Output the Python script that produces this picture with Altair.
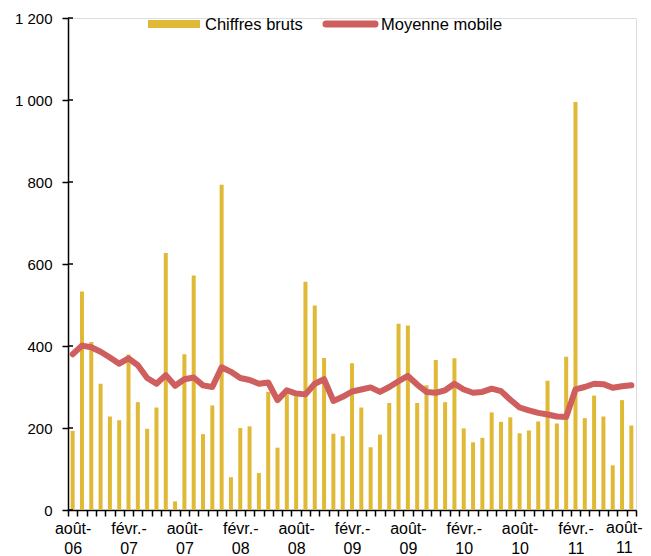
import altair as alt
import pandas as pd

noms_mois = ["janv.", "févr.", "mars", "avr.", "mai", "juin",
             "juil.", "août", "sept.", "oct.", "nov.", "déc."]
# août 2006 -> août 2011 (61 mois)
mois = [f"{noms_mois[(7 + i) % 12]}-{((2006 * 12 + 7 + i) // 12) % 100:02d}" for i in range(61)]

bruts = [193, 533, 410, 308, 228, 219, 379, 263, 198, 250,
         627, 21, 380, 572, 185, 255, 793, 80, 200, 204,
         90, 288, 152, 282, 277, 557, 499, 371, 186, 180,
         358, 250, 153, 184, 261, 454, 450, 261, 304, 366,
         263, 370, 199, 165, 176, 238, 215, 226, 187, 194,
         216, 315, 211, 374, 995, 224, 279, 228, 109, 268, 206]

moyenne = [380, 401, 397, 386, 372, 357, 370, 353, 322, 308,
           329, 303, 319, 323, 304, 300, 348, 337, 322, 317,
           308, 311, 268, 292, 284, 282, 308, 319, 266, 276,
           289, 294, 299, 288, 300, 314, 327, 306, 288, 286,
           292, 308, 294, 286, 288, 296, 290, 269, 250, 243,
           237, 233, 228, 227, 294, 300, 308, 307, 298, 302, 304]

series = ["Chiffres bruts", "Moyenne mobile"]
couleurs = ["#E0B936", "#CF5E5E"]
y_ticks = [0, 200, 400, 600, 800, 1000, 1200]

df_b = pd.DataFrame({"mois": mois, "valeur": bruts})
df_m = pd.DataFrame({"mois": mois, "valeur": moyenne})
df_t = pd.DataFrame({"valeur": y_ticks})

# étiquettes affichées tous les 6 mois (la dernière est dessinée à part, près du bord)
shown = [m for i, m in enumerate(mois) if i % 6 == 0 and i < len(mois) - 1]
arr = "[" + ",".join(f"'{m}'" for m in shown) + "]"
label_expr = (f"indexof({arr}, datum.value) < 0 ? '' : "
              "[slice(datum.value, 0, indexof(datum.value, '-') + 1), "
              "slice(datum.value, indexof(datum.value, '-') + 1)]")

FONT = "Liberation Sans"

x_scale = alt.Scale(domain=mois, paddingInner=0, paddingOuter=0)
x_enc = alt.X("mois:O", sort=mois, scale=x_scale,
              axis=alt.Axis(title=None, labelExpr=label_expr, labelAngle=0,
                            tickBand="extent", labelOverlap=False,
                            labelPadding=4, labelFontSize=16, labelLineHeight=20,
                            labelBaseline="top", tickSize=6, tickWidth=1.5,
                            domainWidth=1.5, domainColor="black",
                            tickColor="black", labelColor="black", labelFont=FONT))

y_scale = alt.Scale(domain=[0, 1200], nice=False)
y_enc = alt.Y("valeur:Q", scale=y_scale,
              axis=alt.Axis(title=None, values=y_ticks, grid=False,
                            labelExpr="replace(format(datum.value, ','), ',', ' ')",
                            labelFontSize=15, labelFont=FONT, labelColor="black",
                            tickSize=6, tickWidth=1.5, tickColor="black",
                            domainColor="black", domainWidth=1.5, labelPadding=10))

bars = alt.Chart(df_b).mark_bar(size=4, color=couleurs[0]).encode(x=x_enc, y=y_enc)
line = alt.Chart(df_m).mark_line(strokeWidth=6, strokeJoin="round", strokeCap="round",
                                 color=couleurs[1]).encode(x=x_enc, y=y_enc)

# Graduations vers l'intérieur de l'axe vertical
ticks_in = alt.Chart(df_t).mark_rule(color="black", strokeWidth=1.5).encode(
    y=alt.Y("valeur:Q", scale=y_scale), x=alt.value(0), x2=alt.value(5))

# Dernière étiquette de l'axe horizontal (décalée pour rester dans la page)
last_df = pd.DataFrame({"mois": [mois[-1]],
                        "texte": [mois[-1].replace("-", "-\n", 1)]})
last_lbl = alt.Chart(last_df).mark_text(
    align="center", baseline="top", fontSize=16, font=FONT, color="black",
    lineBreak="\n", lineHeight=20, dx=-7).encode(
    x=alt.X("mois:O", scale=x_scale), y=alt.value(502), text="texte:N")

# Légende
leg_df = pd.DataFrame({"serie": series})
leg_sym1 = alt.Chart(leg_df).transform_filter(alt.datum.serie == series[0]).mark_rule(
    strokeWidth=8, color=couleurs[0]).encode(x=alt.value(80), x2=alt.value(132), y=alt.value(6))
leg_txt1 = alt.Chart(leg_df).transform_filter(alt.datum.serie == series[0]).mark_text(
    align="left", baseline="middle", fontSize=16.5, font=FONT, color="black").encode(
    x=alt.value(137), y=alt.value(7), text="serie:N")
leg_sym2 = alt.Chart(leg_df).transform_filter(alt.datum.serie == series[1]).mark_rule(
    strokeWidth=7, color=couleurs[1], strokeCap="round").encode(
    x=alt.value(258), x2=alt.value(307), y=alt.value(6))
leg_txt2 = alt.Chart(leg_df).transform_filter(alt.datum.serie == series[1]).mark_text(
    align="left", baseline="middle", fontSize=16.5, font=FONT, color="black").encode(
    x=alt.value(313), y=alt.value(7), text="serie:N")

chart = alt.layer(bars, line, ticks_in, last_lbl,
                  leg_sym1, leg_txt1, leg_sym2, leg_txt2).properties(
    width=568, height=492,
    autosize=alt.AutoSizeParams(type="none"),
    padding={"left": 60, "top": 10, "right": 7, "bottom": 46},
).configure_view(stroke=None).configure(font=FONT)

chart.save("out.html", embed_options={"renderer": "svg", "actions": False})
